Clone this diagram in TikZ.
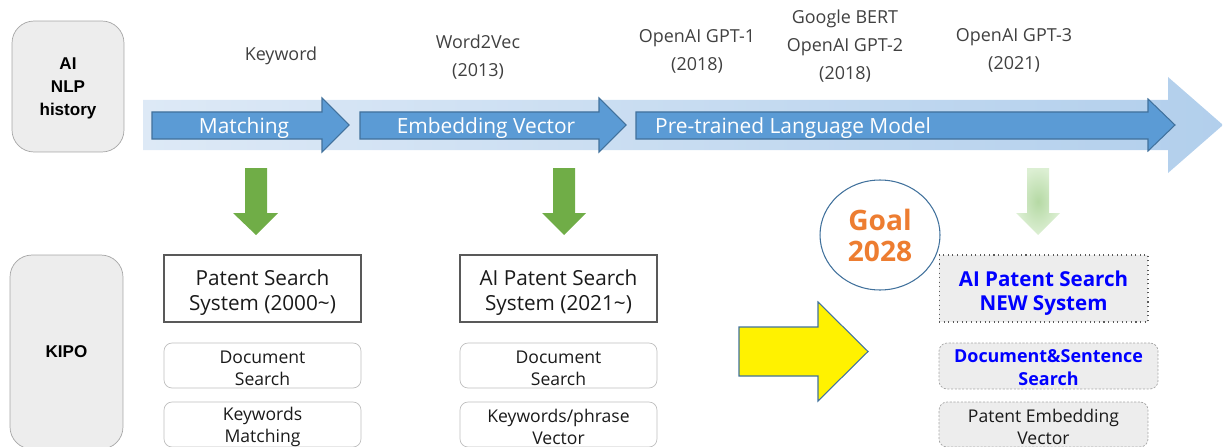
\documentclass[tikz,border=0pt]{standalone}
\usepackage{fontspec}
\setmainfont{Open Sans}
\newfontfamily\arialfont{Liberation Sans}
\usetikzlibrary{shapes.geometric}
\definecolor{boxgray}{HTML}{EDEDED}
\definecolor{sidegray}{HTML}{A6A6A6}
\definecolor{sysborder}{HTML}{595959}
\definecolor{featborder}{HTML}{BFBFBF}
\definecolor{eragray}{HTML}{404040}
\definecolor{textblack}{HTML}{1A1A1A}
\definecolor{arrowblue}{HTML}{5B9BD5}
\definecolor{arrowedge}{HTML}{41719C}
\definecolor{arrowgreen}{HTML}{70AD47}
\definecolor{fadegreen}{HTML}{B5D9A4}
\definecolor{fadegreenlight}{HTML}{DCEFD3}
\definecolor{bandleft}{HTML}{DDE9F6}
\definecolor{bandright}{HTML}{B2CFEC}
\definecolor{goalorange}{HTML}{ED7D31}
\definecolor{newblue}{HTML}{0000FF}
\definecolor{newborder}{HTML}{595959}
\tikzset{every node/.style={align=center, inner sep=0pt},
  sidebox/.style={draw=sidegray, fill=boxgray, rounded corners=0.44cm,
    font=\arialfont\bfseries\fontsize{9.7}{13}\selectfont},
  sysbox/.style={draw=sysborder, line width=0.6pt, minimum width=3.94cm,
    minimum height=1.34cm, text=textblack, font=\fontsize{11.8}{14.2}\selectfont,
    execute at begin node={\rule{0pt}{27.7pt}}},
  featbox/.style={draw=featborder, rounded corners=0.16cm, minimum width=3.94cm,
    minimum height=0.9cm, text=textblack, font=\fontsize{10}{12.5}\selectfont,
    execute at begin node={\rule{0pt}{22.4pt}}},
  era/.style={text=eragray, font=\fontsize{10.2}{16}\selectfont},
  steplabel/.style={text=white, font=\fontsize{11.9}{14}\selectfont},
  bluearrow/.style={fill=arrowblue, draw=arrowedge, line width=0.6pt},
  greenarrow/.style={fill=arrowgreen},
  finedash/.style={dash pattern=on 1.2pt off 0.9pt}}

\begin{document}
\begin{tikzpicture}[x=0.02cm, y=-0.02cm]
                \useasboundingbox (0,0) rectangle (1223,446);
                \clip (0,0) rectangle (1223,446);
                % row titles
                \node[sidebox, minimum width=2.24cm, minimum height=2.62cm, execute at begin node={\rule{0pt}{35.2pt}}] (nlp)
                      at (68,86.5) {AI\\NLP\\history};
                \node[sidebox, minimum width=2.26cm, minimum height=3.88cm] (kipo) at (66.5,352) {KIPO};
                % time line
                \shade[left color=bandleft, right color=bandright] (143,100) -- (1168,100) -- (1168,77) -- (1223,125)
                      -- (1168,173) -- (1168,150) -- (143,150) -- cycle;
                \filldraw[bluearrow] (152,112) -- (322,112) -- (322,98) -- (349,125) -- (322,152) -- (322,139) -- (152,139) -- cycle;
                \filldraw[bluearrow] (360,112) -- (599,112) -- (599,98) -- (626,125) -- (599,152) -- (599,139) -- (360,139) -- cycle;
                \filldraw[bluearrow] (636,112) -- (1148,112) -- (1148,99) -- (1175,125) -- (1148,151) -- (1148,139) -- (636,139) -- cycle;
                \node[steplabel] (match) at (244,128) {Matching};
                \node[steplabel] (embed) at (486,128) {Embedding Vector};
                \node[steplabel] (plm) at (793,128) {Pre-trained Language Model};
                \node[era] (kw) at (281,56) {Keyword};
                \node[era] (w2v) at (478,57) {Word2Vec\\(2013)};
                \node[era] (gpt1) at (697,51) {OpenAI GPT-1\\(2018)};
                \node[era] (gpt2) at (845,46) {Google BERT\\OpenAI GPT-2\\(2018)};
                \node[era] (gpt3) at (1014,50) {OpenAI GPT-3\\(2021)};
                % down arrows
                \fill[greenarrow] (245,168) -- (267,168) -- (267,213) -- (278,213) -- (256,235) -- (233,213) -- (245,213) -- cycle;
                \fill[greenarrow] (553,168) -- (575,168) -- (575,213) -- (586,213) -- (564,235) -- (542,213) -- (553,213) -- cycle;
                \shade[inner color=fadegreen, outer color=fadegreenlight] (1027,168) -- (1049,168) -- (1049,213) -- (1060,213)
                      -- (1038,235) -- (1016,213) -- (1027,213) -- cycle;
                % KIPO systems
                \node[sysbox] (sys1) at (262.5,288.5) {Patent Search\\System (2000\textasciitilde)};
                \node[featbox] (doc1) at (262.5,365.5) {Document\\Search};
                \node[featbox] (kw1) at (262.5,424.5) {Keywords\\Matching};
                \node[sysbox] (sys2) at (558.5,288.5) {AI Patent Search\\System (2021\textasciitilde)};
                \node[featbox] (doc2) at (558.5,365.5) {Document\\Search};
                \node[featbox] (kw2) at (558.5,424.5) {Keywords/phrase\\Vector};
                % goal
                \filldraw[fill=yellow, draw=arrowedge, line width=0.6pt] (739,327) -- (818,327) -- (818,302) -- (868,351.5)
                      -- (818,401) -- (818,376) -- (739,376) -- cycle;
                \node[draw=arrowedge, line width=0.6pt, ellipse, minimum width=2.4cm, minimum height=2.2cm, text=goalorange,
                      font=\bfseries\fontsize{16}{17.6}\selectfont] (goal) at (880,235) {Goal\\2028};
                \node[sysbox, draw=newborder, dotted, fill=boxgray, minimum width=4.18cm, text=newblue,
                      font=\bfseries\fontsize{11.7}{13.8}\selectfont] (new) at (1043.5,288.5) {AI Patent Search\\NEW System};
                \node[featbox, finedash, draw=sidegray, fill=boxgray, minimum width=4.38cm, minimum height=0.92cm, text=newblue,
                      font=\bfseries\fontsize{10.2}{13}\selectfont] (docs) at (1048.5,366) {Document\&Sentence\\Search};
                \node[featbox, finedash, draw=sidegray, fill=boxgray, minimum width=4.18cm] (emb) at (1043.5,424.5) {Patent Embedding\\Vector};
              \end{tikzpicture}
\end{document}
